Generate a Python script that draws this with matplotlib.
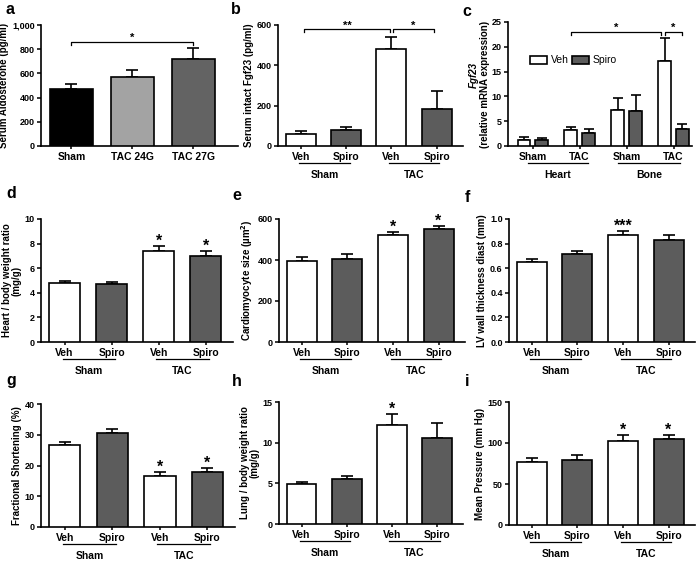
import matplotlib
matplotlib.use("Agg")
import matplotlib.pyplot as plt
import numpy as np

plt.rcParams["font.family"] = ["Liberation Sans", "DejaVu Sans"]
plt.rcParams["font.weight"] = "bold"

WHITE = "#ffffff"
DARK = "#5c5c5c"

# ---- data ----
a_labels = ["Sham", "TAC 24G", "TAC 27G"]
a_vals = [468, 573, 719]
a_errs = [45, 55, 94]

treat = ["Veh", "Spiro", "Veh", "Spiro"]
groups = ["Sham", "TAC"]

b_vals = [60, 79, 481, 183]
b_errs = [14, 14, 61, 90]

c_groups = ["Sham", "TAC", "Sham", "TAC"]
c_tissues = ["Heart", "Bone"]
c_veh = [1.21, 3.17, 7.28, 17.1]
c_veh_err = [0.54, 0.6, 2.3, 4.6]
c_spiro = [1.15, 2.56, 7.08, 3.37]
c_spiro_err = [0.4, 0.88, 3.2, 1.0]

d_vals = [4.77, 4.71, 7.36, 7.03]
d_errs = [0.16, 0.19, 0.46, 0.33]

e_vals = [395, 406, 521, 551]
e_errs = [21, 21, 18, 13]

f_vals = [0.647, 0.715, 0.871, 0.830]
f_errs = [0.027, 0.027, 0.028, 0.036]

g_vals = [26.8, 30.6, 16.7, 17.8]
g_errs = [0.8, 1.2, 1.3, 1.5]

h_vals = [4.92, 5.57, 12.13, 10.57]
h_errs = [0.28, 0.29, 1.39, 1.85]

i_vals = [77.4, 79.5, 101.9, 104.3]
i_errs = [3.7, 5.3, 7.3, 5.7]

W, H = 700, 563
fig = plt.figure(figsize=(7, 5.63), dpi=100)


def make_ax(l, t, r, b):
    ax = fig.add_axes([l / W, 1 - b / H, (r - l) / W, (b - t) / H])
    for s in ["top", "right"]:
        ax.spines[s].set_visible(False)
    for s in ["left", "bottom"]:
        ax.spines[s].set_linewidth(1.2)
    ax.tick_params(width=1.1, length=3, labelsize=6.5, pad=1.5)
    ax.tick_params(axis="x", length=2.5, pad=2)
    ax._hpx = b - t
    return ax


def bars(ax, xs, vals, errs, colors, width):
    ax.bar(xs, vals, width=width, color=colors, edgecolor="k", linewidth=1.2, zorder=3)
    ax.errorbar(xs, vals, yerr=[np.zeros(len(vals)), errs], fmt="none",
                ecolor="k", elinewidth=1.2, capsize=4, capthick=1.2, zorder=2)


def group_lines(ax, spans, labels):
    tr = ax.get_xaxis_transform()
    for (x0, x1), lab in zip(spans, labels):
        ax.plot([x0, x1], [-17 / ax._hpx] * 2, transform=tr, color="k", lw=0.9, clip_on=False)
        ax.text((x0 + x1) / 2, -29 / ax._hpx, lab, transform=tr, ha="center", va="center",
                fontsize=7.5, fontweight="bold")


def stars(ax, xs, tops, text="*"):
    for x, t in zip(xs, tops):
        ax.annotate(text, (x, t), xytext=(0, -2), textcoords="offset points",
                    ha="center", va="bottom", fontsize=11.5, fontweight="bold")


def bracket(ax, x0, x1, y, h, text, size=8):
    ax.plot([x0, x0, x1, x1], [y - h, y, y, y - h], color="k", lw=0.9, clip_on=False)
    ax.annotate(text, ((x0 + x1) / 2, y), xytext=(0, -1), textcoords="offset points",
                ha="center", va="bottom", fontsize=size, fontweight="bold")


def letter(x, y, s):
    fig.text(x / W, 1 - y / H, s, fontsize=11.5, fontweight="bold", ha="left", va="center")


def four_bar(ax, vals, errs, ylim, yticks, ylabel, ytl=None):
    xs = np.arange(4)
    bars(ax, xs, vals, errs, [WHITE, DARK, WHITE, DARK], 0.66)
    ax.set_xlim(-0.5, 3.58)
    ax.set_ylim(*ylim)
    ax.set_yticks(yticks)
    if ytl is not None:
        ax.set_yticklabels(ytl)
    ax.set_xticks(xs)
    ax.set_xticklabels(treat, fontsize=7.5, fontweight="bold")
    ax.set_ylabel(ylabel, fontsize=7, fontweight="bold", labelpad=2, linespacing=1.0)
    group_lines(ax, [(-0.03, 1.08), (1.95, 3.06)], groups)
    return xs


# ---- a ----
ax = make_ax(41, 25, 238, 146)
xs = np.arange(3)
bars(ax, xs, a_vals, a_errs, ["#000000", "#a3a3a3", "#636363"], 0.7)
ax.set_xlim(-0.5, 2.73)
ax.set_ylim(0, 1000)
ax.set_yticks([0, 200, 400, 600, 800, 1000])
ax.set_yticklabels(["0", "200", "400", "600", "800", "1,000"])
ax.set_xticks(xs)
ax.set_xticklabels(a_labels, fontsize=7.5, fontweight="bold")
ax.set_ylabel("Serum Aldosterone (pg/ml)", fontsize=7, fontweight="bold", labelpad=2)
bracket(ax, 0, 2, 862, 25, "*")
letter(6, 9, "a")

# ---- b ----
ax = make_ax(278, 25, 463, 146)
xs = four_bar(ax, b_vals, b_errs, (0, 600), [0, 200, 400, 600], "Serum intact Fgf23 (pg/ml)")
bracket(ax, 0.08, 1.97, 579, 15, "**")
bracket(ax, 2.03, 2.93, 579, 15, "*")
letter(231, 9, "b")

# ---- c ----
ax = make_ax(508, 22, 692, 146)
gx = np.arange(4) * 3.8
xv = gx
xsp = gx + 1.45
ax.bar(xv, c_veh, width=1.0, color=WHITE, edgecolor="k", linewidth=1.2, zorder=3, label="Veh")
ax.bar(xsp, c_spiro, width=1.0, color=DARK, edgecolor="k", linewidth=1.2, zorder=3, label="Spiro")
ax.errorbar(xv, c_veh, yerr=[np.zeros(4), c_veh_err], fmt="none", ecolor="k",
            elinewidth=1.2, capsize=3.5, capthick=1.2, zorder=2)
ax.errorbar(xsp, c_spiro, yerr=[np.zeros(4), c_spiro_err], fmt="none", ecolor="k",
            elinewidth=1.2, capsize=3.5, capthick=1.2, zorder=2)
ax.set_xlim(-1.27, 13.62)
ax.set_ylim(0, 25)
ax.set_yticks([0, 5, 10, 15, 20, 25])
ax.set_xticks(gx + 0.725)
ax.set_xticklabels(c_groups, fontsize=7.5, fontweight="bold")
group_lines(ax, [(0.35, 5.2), (7.65, 12.65)], c_tissues)
bracket(ax, gx[1], gx[3] - 0.3, 23, 0.6, "*")
bracket(ax, gx[3], xsp[3], 23, 0.6, "*")
ax.legend(loc="center left", bbox_to_anchor=(0.07, 0.69), ncol=2, frameon=False,
          prop={"size": 7.5, "weight": "normal"}, handlelength=1.6, handleheight=0.9,
          handletextpad=0.4, columnspacing=0.3)
fig.text(474 / W, 1 - 75 / H, "Fgf23", rotation=90, fontsize=7, fontweight="bold",
         style="italic", ha="center", va="center")
fig.text(485 / W, 1 - 84 / H, "(relative mRNA expression)", rotation=90, fontsize=7,
         fontweight="bold", ha="center", va="center")
letter(462, 11, "c")

# ---- d ----
ax = make_ax(41, 219, 233, 342)
xs = four_bar(ax, d_vals, d_errs, (0, 10), [0, 2, 4, 6, 8, 10], "Heart / body weight ratio\n(mg/g)")
stars(ax, xs[2:], np.add(d_vals, d_errs)[2:])
letter(6, 194, "d")

# ---- e ----
ax = make_ax(279, 219, 465, 342)
xs = four_bar(ax, e_vals, e_errs, (0, 600), [0, 200, 400, 600], "Cardiomyocyte size (\u00b5m$^\\mathbf{2}$)")
stars(ax, xs[2:], np.add(e_vals, e_errs)[2:])
letter(232, 196, "e")

# ---- f ----
ax = make_ax(509, 219, 695, 342)
xs = four_bar(ax, f_vals, f_errs, (0, 1.0), [0, 0.2, 0.4, 0.6, 0.8, 1.0], "LV wall thickness diast (mm)",
              ["0.0", "0.2", "0.4", "0.6", "0.8", "1.0"])
stars(ax, xs[2:3], np.add(f_vals, f_errs)[2:3], "***")
letter(465, 197, "f")

# ---- g ----
ax = make_ax(41, 404, 235, 527)
xs = four_bar(ax, g_vals, g_errs, (0, 40), [0, 10, 20, 30, 40], "Fractional Shortening (%)")
stars(ax, xs[2:], np.add(g_vals, g_errs)[2:])
letter(6, 381, "g")

# ---- h ----
ax = make_ax(279, 402, 463, 524)
xs = four_bar(ax, h_vals, h_errs, (0, 15), [0, 5, 10, 15], "Lung / body weight ratio\n(mg/g)")
stars(ax, xs[2:3], np.add(h_vals, h_errs)[2:3])
letter(232, 382, "h")

# ---- i ----
ax = make_ax(509, 402, 695, 525)
xs = four_bar(ax, i_vals, i_errs, (0, 150), [0, 50, 100, 150], "Mean Pressure (mm Hg)")
stars(ax, xs[2:], np.add(i_vals, i_errs)[2:])
letter(465, 382, "i")

fig.savefig("out.png", dpi=100)
